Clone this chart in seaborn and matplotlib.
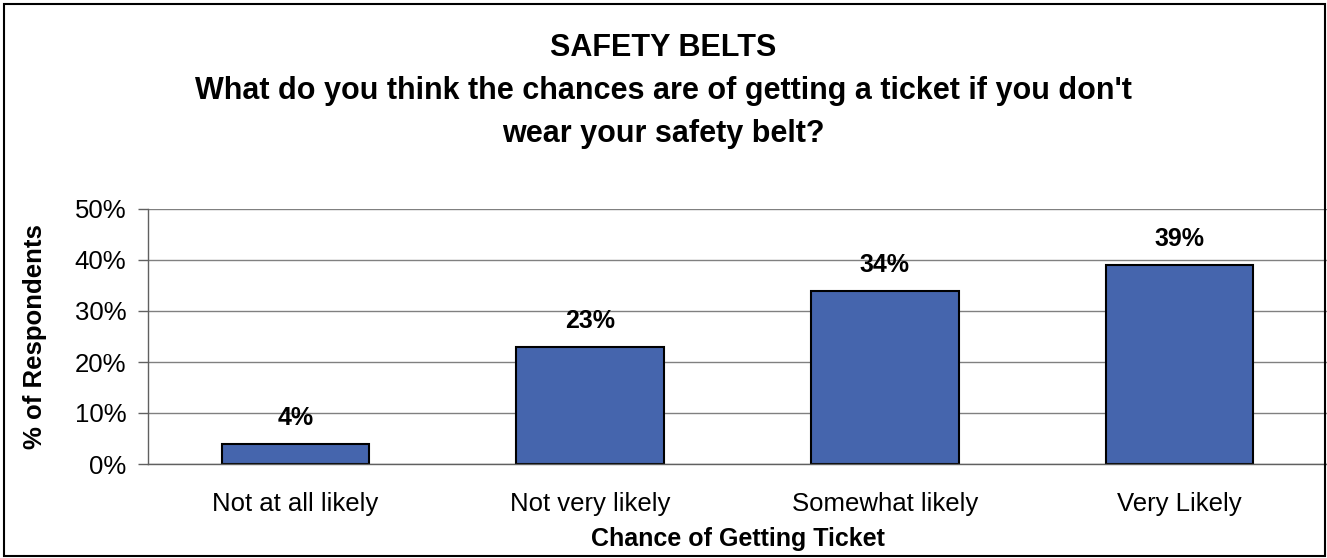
import matplotlib
matplotlib.use("Agg")
import matplotlib.pyplot as plt
import seaborn as sns
from matplotlib.patches import Rectangle
from matplotlib.ticker import PercentFormatter

categories = ["Not at all likely", "Not very likely", "Somewhat likely", "Very Likely"]
pct_respondents = [4, 23, 34, 39]
value_labels = ["4%", "23%", "34%", "39%"]

sns.set_style("white")
plt.rcParams["font.family"] = ["Liberation Sans", "DejaVu Sans"]
plt.rcParams["text.color"] = "black"
plt.rcParams["axes.labelcolor"] = "black"
plt.rcParams["xtick.color"] = "black"
plt.rcParams["ytick.color"] = "black"

fig = plt.figure(figsize=(13.27, 5.58), dpi=100)
ax = fig.add_axes([148 / 1327, 1 - 464 / 558, 1179 / 1327, 255 / 558])

sns.barplot(
    x=categories,
    y=pct_respondents,
    color="#4565AD",
    saturation=1,
    edgecolor="black",
    linewidth=1.5,
    width=0.5,
    ax=ax,
)

for i, (v, lab) in enumerate(zip(pct_respondents, value_labels)):
    ax.annotate(lab, (i, v), xytext=(0, 10), textcoords="offset points",
                ha="center", va="bottom", fontsize=18, fontweight="bold")

ax.set_xlim(-0.5, 3.5)
ax.set_ylim(0, 50)
ax.set_yticks(range(0, 51, 10))
ax.yaxis.set_major_formatter(PercentFormatter(decimals=0))
ax.yaxis.grid(True, color="#808080", linewidth=1)
ax.set_axisbelow(True)

# category boundary ticks on x axis
ax.set_xticks([-0.5, 0.5, 1.5, 2.5, 3.5], minor=True)
ax.tick_params(axis="x", which="minor", length=6, width=1, color="#606060", direction="out")
ax.tick_params(axis="x", which="major", length=0, pad=20, labelsize=18.5)
ax.tick_params(axis="y", which="major", length=7, width=1, color="#606060",
               direction="out", left=True, pad=8.5, labelsize=18.5)

for side in ["top", "right"]:
    ax.spines[side].set_visible(False)
for side in ["left", "bottom"]:
    ax.spines[side].set_color("#606060")
    ax.spines[side].set_linewidth(1)

ax.set_xlabel("Chance of Getting Ticket", fontsize=18, fontweight="bold", labelpad=8)
ax.set_ylabel("% of Respondents", fontsize=18.5, fontweight="bold", labelpad=20)

fig.text(0.5, 1 - 91 / 558, "SAFETY BELTS\nWhat do you think the chances are of getting a ticket if you don't\nwear your safety belt?",
         ha="center", va="center", fontsize=22, fontweight="bold", linespacing=1.55)

fig.patches.append(Rectangle((4 / 1327, 2 / 558), 1321 / 1327, 552 / 558, transform=fig.transFigure,
                             fill=False, edgecolor="black", linewidth=1.5))

fig.savefig("out.png", dpi=100)
